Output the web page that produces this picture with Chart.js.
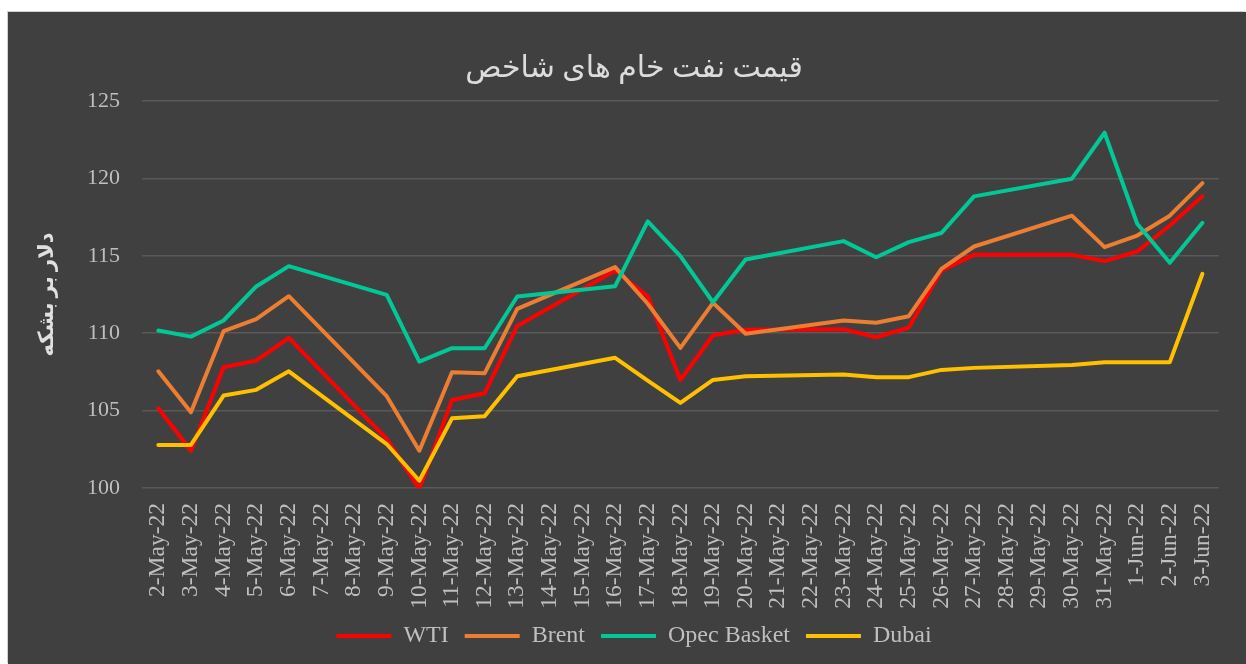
<!DOCTYPE html>
<html>
<head>
<meta charset="utf-8">
<script src="https://cdn.jsdelivr.net/npm/chart.js@4"></script>
<style>
  html, body { margin: 0; padding: 0; background: #ffffff; width: 1246px; height: 664px; overflow: hidden; }
  #wrap { position: absolute; left: 8px; top: 12px; width: 1238px; height: 652px; background: #404040;
          box-shadow: -1px -1px 0 0 #d0d0d0; }
  canvas { display: block; }
</style>
</head>
<body>
<div id="wrap"><canvas id="c" width="1238" height="652"></canvas></div>
<script>
const chartTitle = 'قیمت نفت خام های شاخص';
const yAxisTitle = 'دلار بر بشکه';
const categories = ['2-May-22','3-May-22','4-May-22','5-May-22','6-May-22','7-May-22','8-May-22','9-May-22','10-May-22','11-May-22','12-May-22','13-May-22','14-May-22','15-May-22','16-May-22','17-May-22','18-May-22','19-May-22','20-May-22','21-May-22','22-May-22','23-May-22','24-May-22','25-May-22','26-May-22','27-May-22','28-May-22','29-May-22','30-May-22','31-May-22','1-Jun-22','2-Jun-22','3-Jun-22'];
const seriesNames = ['WTI','Brent','Opec Basket','Dubai'];
const wti   = [105.15,102.41,107.8,108.23,109.7,null,null,103.17,99.94,105.69,106.12,110.47,null,null,114.05,112.39,106.98,109.87,110.22,null,null,110.26,109.74,110.37,114.05,115.06,null,null,115.06,114.66,115.28,116.96,118.84];
const brent = [107.54,104.89,110.13,110.91,112.39,null,null,105.93,102.41,107.48,107.41,111.57,null,null,114.27,111.9,109.05,111.96,109.96,null,null,110.82,110.67,111.1,114.16,115.6,null,null,117.59,115.56,116.31,117.59,119.7];
const opec  = [110.17,109.78,110.82,113.02,114.33,null,null,112.48,108.17,109.03,109.03,112.37,null,null,113.04,117.22,114.98,112.0,114.76,null,null,115.95,114.91,115.88,116.47,118.84,null,null,119.98,122.95,117.07,114.55,117.13];
const dubai = [102.78,102.78,105.97,106.34,107.54,null,null,102.84,100.47,104.5,104.63,107.22,null,null,108.41,106.94,105.5,106.98,107.22,null,null,107.33,107.16,107.16,107.63,107.76,null,null,107.95,108.13,108.13,108.13,113.84];
const yMin = 100, yMax = 125, yStep = 5;
const colors = ['#FF0000','#ED7D31','#00C896','#FFC000'];

const FONT = "'Liberation Serif', 'Times New Roman', 'DejaVu Sans', serif";
const values = [wti, brent, opec, dubai];
const datasets = values.map((v, i) => ({
  label: seriesNames[i],
  data: v,
  borderColor: colors[i],
  backgroundColor: colors[i],
  borderWidth: 4,
  pointRadius: 0,
  pointHoverRadius: 0,
  pointBorderWidth: 4,
  pointBorderColor: colors[i],
  borderJoinStyle: 'round',
  borderCapStyle: 'round',
  tension: 0,
  spanGaps: true,
  order: 3 - i
}));

new Chart(document.getElementById('c'), {
  type: 'line',
  data: { labels: categories, datasets },
  options: {
    responsive: false,
    animation: false,
    layout: { padding: { left: 37, right: 23, top: 0, bottom: 6 } },
    plugins: {
      title: {
        display: true,
        text: chartTitle,
        color: '#dcdcdc',
        font: { family: FONT, size: 30, weight: 'normal' },
        padding: { top: 39, bottom: 14 }
      },
      legend: {
        position: 'bottom',
        labels: {
          color: '#bfbfbf',
          font: { family: FONT, size: 24 },
          usePointStyle: true,
          pointStyle: 'line',
          pointStyleWidth: 55,
          boxHeight: 24,
          padding: 16,
          sort: (a, b) => a.datasetIndex - b.datasetIndex
        }
      },
      tooltip: { enabled: false }
    },
    scales: {
      x: {
        offset: true,
        grid: { display: false, drawTicks: false },
        border: { display: false },
        ticks: {
          color: '#bfbfbf',
          font: { family: FONT, size: 23.5 },
          minRotation: 90, maxRotation: 90,
          autoSkip: false,
          padding: 15
        },
        afterFit: (s) => { s.height = 120; }
      },
      y: {
        min: yMin, max: yMax,
        grid: { color: '#595959', lineWidth: 1.5, drawTicks: false },
        border: { display: false },
        ticks: {
          stepSize: yStep,
          color: '#bfbfbf',
          font: { family: FONT, size: 22 },
          padding: 22
        },
        title: {
          display: true,
          text: yAxisTitle,
          color: '#e0e0e0',
          font: { family: FONT, size: 21, weight: 'bold' },
          padding: { top: -10, bottom: 0 }
        },
        afterFit: (s) => { s.width = 97; }
      }
    }
  }
});
</script>
</body>
</html>
